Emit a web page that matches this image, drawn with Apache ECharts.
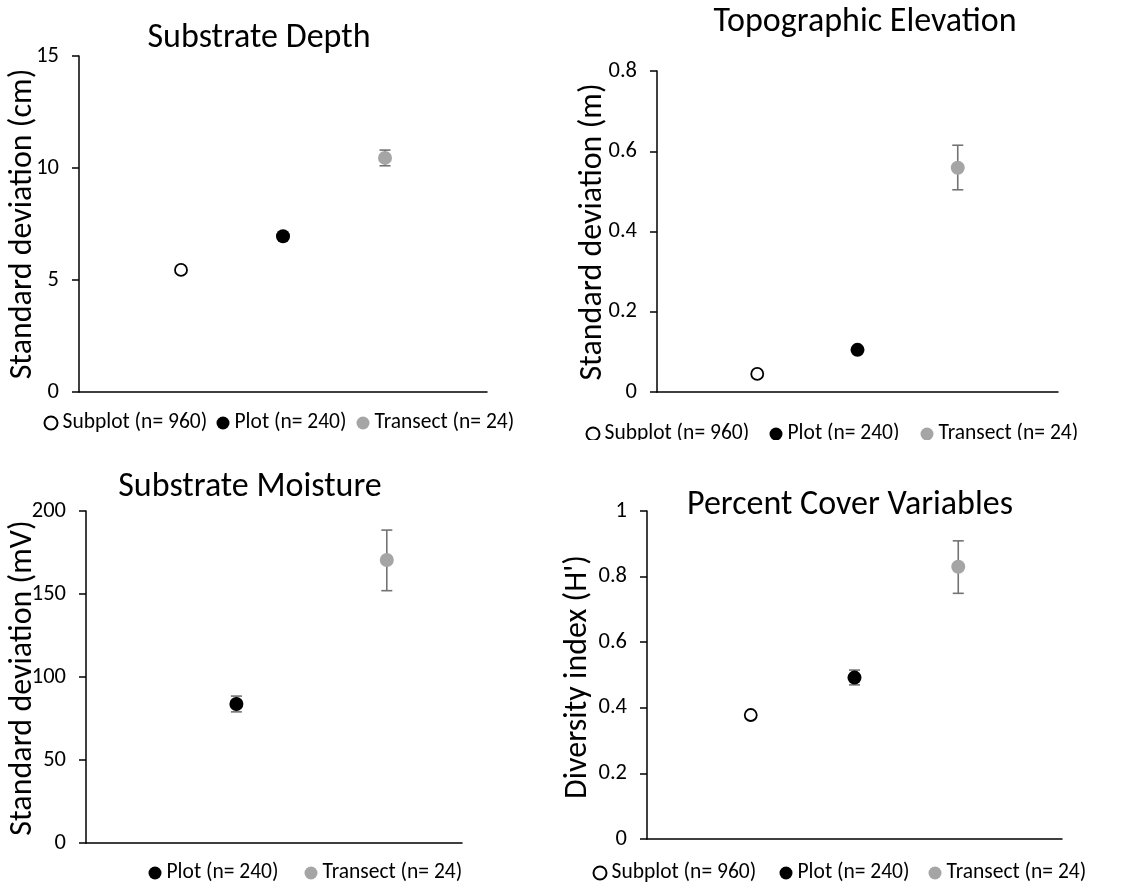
<!DOCTYPE html>
<html>
<head>
<meta charset="utf-8">
<script src="https://cdn.jsdelivr.net/npm/echarts@6/dist/echarts.min.js"></script>
<style>
html,body{margin:0;padding:0;background:#fff;}
body{width:1136px;height:886px;position:relative;overflow:hidden;}
.p{position:absolute;}
</style>
</head>
<body>
<div id="p1" class="p"></div>
<div id="p2" class="p"></div>
<div id="p3" class="p"></div>
<div id="p4" class="p"></div>
<script>
// ---------------- data ----------------
const groupNames = ['Subplot (n= 960)', 'Plot (n= 240)', 'Transect (n= 24)'];

const depthValues = [5.45, 6.95, 10.45];
const depthErrLow = [null, null, 10.1];
const depthErrHigh = [null, null, 10.8];
const depthTicks = [0, 5, 10, 15];

const elevationValues = [0.045, 0.105, 0.559];
const elevationErrLow = [null, null, 0.504];
const elevationErrHigh = [null, null, 0.615];
const elevationTicks = [0, 0.2, 0.4, 0.6, 0.8];

const moistureValues = [null, 83.7, 170.5];
const moistureErrLow = [null, 79, 152];
const moistureErrHigh = [null, 88.5, 188.5];
const moistureTicks = [0, 50, 100, 150, 200];

const coverValues = [0.378, 0.492, 0.83];
const coverErrLow = [null, 0.47, 0.749];
const coverErrHigh = [null, 0.515, 0.909];
const coverTicks = [0, 0.2, 0.4, 0.6, 0.8, 1];

// ---------------- styling / layout ----------------
const FONT = 'Carlito, Lato, "Liberation Sans", sans-serif';
const markerStyles = [
  {color: '#ffffff', borderColor: '#000000', borderWidth: 1.8},
  {color: '#000000'},
  {color: '#a5a5a5'}
];
const markerSizes = [12, 14, 14];

const panels = [
  {id: 'p1', box: [0, 0, 570, 450],
   title: 'Substrate Depth', titlePos: [259, 38],
   yName: 'Standard deviation (cm)', yNamePos: [23, 224],
   grid: [79, 56, 408, 336], xMax: 4, xPos: [1, 2, 3],
   values: depthValues, lo: depthErrLow, hi: depthErrHigh, ticks: depthTicks,
   legendIdx: [0, 1, 2], legendX: [50, 223, 363], legendY: 423},
  {id: 'p2', box: [570, 0, 566, 440],
   title: 'Topographic Elevation', titlePos: [865, 22],
   yName: 'Standard deviation (m)', yNamePos: [593, 232],
   grid: [657, 71, 401, 321], xMax: 4, xPos: [1, 2, 3],
   values: elevationValues, lo: elevationErrLow, hi: elevationErrHigh, ticks: elevationTicks,
   legendIdx: [0, 1, 2], legendX: [592, 776, 927], legendY: 434},
  {id: 'p3', box: [0, 450, 560, 436],
   title: 'Substrate Moisture', titlePos: [250, 487],
   yName: 'Standard deviation (mV)', yNamePos: [23, 678],
   grid: [86, 511, 376, 332], xMax: 2.5, xPos: [0, 1, 2],
   values: moistureValues, lo: moistureErrLow, hi: moistureErrHigh, ticks: moistureTicks,
   legendIdx: [1, 2], legendX: [155, 311], legendY: 873},
  {id: 'p4', box: [550, 450, 586, 436],
   title: 'Percent Cover Variables', titlePos: [850, 505],
   yName: "Diversity index (H')", yNamePos: [578, 677],
   grid: [647, 511, 415, 328], xMax: 4, xPos: [1, 2, 3],
   values: coverValues, lo: coverErrLow, hi: coverErrHigh, ticks: coverTicks,
   legendIdx: [0, 1, 2], legendX: [599, 786, 935], legendY: 873}
];

function build(p) {
  const el = document.getElementById(p.id);
  const [bx, by, bw, bh] = p.box;
  el.style.left = bx + 'px'; el.style.top = by + 'px';
  el.style.width = bw + 'px'; el.style.height = bh + 'px';
  const chart = echarts.init(el, null, {renderer: 'canvas'});
  const tks = p.ticks;
  const interval = tks[1] - tks[0];

  const series = [];
  const errData = [];
  p.values.forEach((v, i) => {
    if (p.lo[i] != null && p.hi[i] != null) errData.push([p.xPos[i], p.lo[i], p.hi[i]]);
  });
  series.push({
    type: 'custom', z: 1, silent: true,
    renderItem: function (params, api) {
      const x = api.value(0);
      const a = api.coord([x, api.value(1)]);
      const b = api.coord([x, api.value(2)]);
      const cap = 5.5;
      const st = {stroke: '#737373', lineWidth: 1.6};
      return {type: 'group', children: [
        {type: 'line', shape: {x1: a[0], y1: a[1], x2: b[0], y2: b[1]}, style: st},
        {type: 'line', shape: {x1: a[0] - cap, y1: a[1], x2: a[0] + cap, y2: a[1]}, style: st},
        {type: 'line', shape: {x1: b[0] - cap, y1: b[1], x2: b[0] + cap, y2: b[1]}, style: st}
      ]};
    },
    data: errData
  });
  p.legendIdx.forEach(i => {
    series.push({
      type: 'scatter', name: groupNames[i], z: 3,
      symbol: 'circle', symbolSize: markerSizes[i],
      itemStyle: Object.assign({opacity: 1}, markerStyles[i]),
      data: p.values[i] == null ? [] : [[p.xPos[i], p.values[i]]]
    });
  });

  const legends = p.legendIdx.map((i, k) => ({
    data: [groupNames[i]],
    left: p.legendX[k] - 6.5 - bx, top: p.legendY - 11 - by,
    itemWidth: 13, itemHeight: 13, padding: 0, icon: 'circle',
    selectedMode: false,
    textStyle: {fontFamily: FONT, fontSize: 21.5, color: '#000'}
  }));

  chart.setOption({
    animation: false,
    backgroundColor: 'transparent',
    grid: {left: p.grid[0] - bx, top: p.grid[1] - by, width: p.grid[2], height: p.grid[3], containLabel: false},
    xAxis: {type: 'value', min: 0, max: p.xMax,
      axisLine: {show: true, onZero: false, lineStyle: {color: '#000', width: 1.5}},
      axisTick: {show: false}, axisLabel: {show: false}, splitLine: {show: false}},
    yAxis: {type: 'value', min: tks[0], max: tks[tks.length - 1], interval: interval,
      axisLine: {show: true, lineStyle: {color: '#000', width: 1.5}},
      axisTick: {show: true, inside: false, length: 7, lineStyle: {color: '#000', width: 1.5}},
      axisLabel: {margin: 20, fontFamily: FONT, fontSize: 22.5, color: '#000'},
      splitLine: {show: false}},
    legend: legends,
    graphic: [
      {type: 'text', x: p.titlePos[0] - bx, y: p.titlePos[1] - by,
       style: {text: p.title, font: '34px ' + FONT, fill: '#000', align: 'center', verticalAlign: 'middle'}},
      {type: 'text', x: p.yNamePos[0] - bx, y: p.yNamePos[1] - by, rotation: Math.PI / 2,
       style: {text: p.yName, font: '32px ' + FONT, fill: '#000', align: 'center', verticalAlign: 'middle'}}
    ],
    series: series
  });
}
panels.forEach(build);
</script>
</body>
</html>
